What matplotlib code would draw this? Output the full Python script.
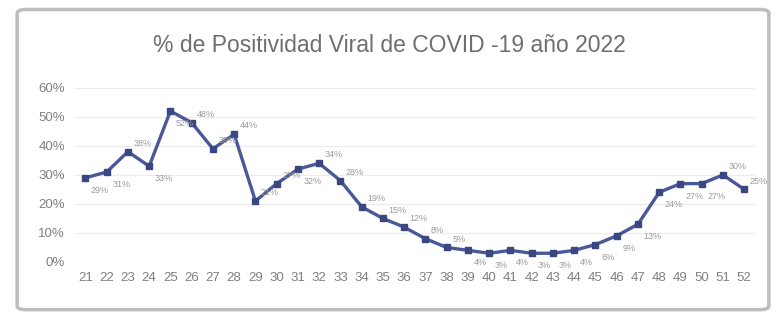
import matplotlib.pyplot as plt
from matplotlib.patches import FancyBboxPatch

plt.rcParams['font.family'] = ['Liberation Sans', 'DejaVu Sans']

semanas = list(range(21, 53))
positividad = [29, 31, 38, 33, 52, 48, 39, 44, 21, 27, 32, 34, 28, 19, 15, 12,
               8, 5, 4, 3, 4, 3, 3, 4, 6, 9, 13, 24, 27, 27, 30, 25]
# a = etiqueta arriba, b = etiqueta abajo
pos_etiqueta = 'bbabbaaaaabaaaaaaabbbbbbbbbbbbaa'

fig = plt.figure(figsize=(7.79, 3.16), dpi=100)
ax = fig.add_axes([0.096, 0.171, 0.873, 0.551])

# marco redondeado
marco = FancyBboxPatch((0.022, 0.02), 0.965, 0.95, boxstyle='round,pad=0,rounding_size=0.012',
                       transform=fig.transFigure, facecolor='white', edgecolor='#bdbdbd',
                       linewidth=2.5, zorder=-10)
fig.patches.append(marco)

ax.plot(semanas, positividad, color='#4a5899', linewidth=2.4, marker='s',
        markersize=4.5, markerfacecolor='#3b4780', markeredgecolor='#3b4780', zorder=3)

for s, v, p in zip(semanas, positividad, pos_etiqueta):
    dy = 6 if p == 'a' else -9
    ax.annotate('%d%%' % v, (s, v), xytext=(4, dy), textcoords='offset points',
                fontsize=6.5, color='#9a9a9a', ha='left', va='center')

ax.set_xlim(20.5, 52.5)
ax.set_ylim(0, 60)
ax.set_xticks(semanas)
ax.set_xticklabels([str(s) for s in semanas], fontsize=9.5, color='#808080')
ax.set_yticks(range(0, 61, 10))
ax.set_yticklabels(['%d%%' % t for t in range(0, 61, 10)], fontsize=9.5, color='#808080')
ax.tick_params(length=0, pad=7)
ax.grid(axis='y', color='#ececec', linewidth=0.8)
ax.set_axisbelow(True)
for sp in ax.spines.values():
    sp.set_visible(False)

fig.text(0.5, 0.855, '% de Positividad Viral de COVID -19 año 2022', ha='center', va='center',
         fontsize=16.5, color='#6e6e6e')

plt.savefig('out.png', dpi=100)
